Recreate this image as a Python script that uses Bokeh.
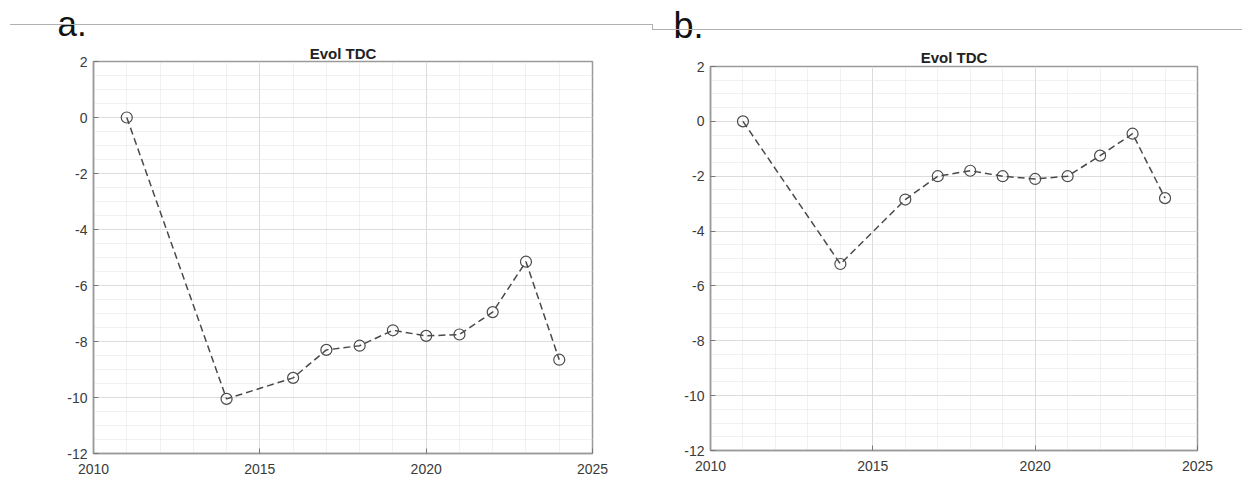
from bokeh.plotting import figure
from bokeh.layouts import row, column
from bokeh.models import SingleIntervalTicker, Range1d, Title, PrintfTickFormatter, InlineStyleSheet
from bokeh.embed import file_html
from bokeh.resources import INLINE

years = [2011, 2014, 2016, 2017, 2018, 2019, 2020, 2021, 2022, 2023, 2024]
tdc_a = [0.0, -10.05, -9.3, -8.3, -8.15, -7.6, -7.8, -7.75, -6.95, -5.15, -8.65]
tdc_b = [0.0, -5.2, -2.85, -2.0, -1.8, -2.0, -2.1, -2.0, -1.25, -0.45, -2.8]
title_text = "Evol TDC"
panel_letters = ["a.", "b."]

FONT = "Liberation Sans"


def make_panel(ys, letter, letter_size, letter_offset, letter_standoff, main_standoff,
               width, height, bl, br, bt, bb, css):
    p = figure(width=width, height=height, output_backend="svg", toolbar_location=None,
               x_range=Range1d(2010, 2025), y_range=Range1d(-12, 2),
               min_border_left=bl, min_border_right=br, min_border_top=bt, min_border_bottom=bb,
               title=None)
    p.outline_line_color = "#9a9a9a"
    p.outline_line_width = 1.5
    p.background_fill_color = "white"
    p.border_fill_color = "white"

    t_main = Title(text=title_text, align="center", text_font=FONT, text_font_size="15px",
                   text_font_style="bold", text_color="#222222", offset=0,
                   standoff=main_standoff)
    t_letter = Title(text=letter, align="left", text_font=FONT, text_font_size=letter_size,
                     text_font_style="normal", text_color="#111111", offset=letter_offset,
                     standoff=letter_standoff)
    p.add_layout(t_main, "above")
    p.add_layout(t_letter, "above")

    p.xaxis.ticker = SingleIntervalTicker(interval=5, num_minor_ticks=5)
    p.yaxis.ticker = SingleIntervalTicker(interval=2, num_minor_ticks=4)
    p.yaxis.formatter = PrintfTickFormatter(format="%d")
    for ax in (p.xaxis[0], p.yaxis[0]):
        ax.axis_line_color = "#9a9a9a"
        ax.axis_line_width = 1.5
        ax.major_tick_in = 5
        ax.major_tick_out = 0
        ax.major_tick_line_color = "#777777"
        ax.minor_tick_in = 0
        ax.minor_tick_out = 0
        ax.major_label_text_font = FONT
        ax.major_label_text_font_size = "14px"
        ax.major_label_text_color = "#3a3a3a"
    p.xaxis.major_label_standoff = 10
    p.yaxis.major_label_standoff = 6

    p.xgrid.grid_line_color = "#dcdcdc"
    p.ygrid.grid_line_color = "#dcdcdc"
    p.xgrid.minor_grid_line_color = "#e2e2e2"
    p.ygrid.minor_grid_line_color = "#e2e2e2"
    p.xgrid.minor_grid_line_dash = "1 1"
    p.ygrid.minor_grid_line_dash = "1 1"

    p.line(years, ys, line_color="#4a4a4a", line_width=1.5, line_dash="7 4")
    p.scatter(years, ys, marker="circle", size=11, fill_color=None,
              line_color="#4a4a4a", line_width=1.2)

    p.stylesheets = [InlineStyleSheet(css=css)]
    return p


css_a = (":host::after { content: ''; position: absolute; left: 10px; top: 24px; "
         "width: 642px; height: 0px; border-top: 1px solid #b0b0b0; pointer-events: none; }")
css_b = (":host::after { content: ''; position: absolute; left: 0px; top: 24px; "
         "width: 590px; height: 6px; border-left: 1px solid #b0b0b0; "
         "border-bottom: 1px solid #b0b0b0; pointer-events: none; }")

p1 = make_panel(tdc_a, panel_letters[0], "35px", -36, 0, 0, 652, 497, 93, 60, 61, 44, css_a)
p2 = make_panel(tdc_b, panel_letters[1], "36px", -37, 2, 1, 590, 497, 58, 45, 66, 47, css_b)

layout = row(column(p1), column(p2), spacing=0)
open("out.html", "w").write(file_html(layout, INLINE))
